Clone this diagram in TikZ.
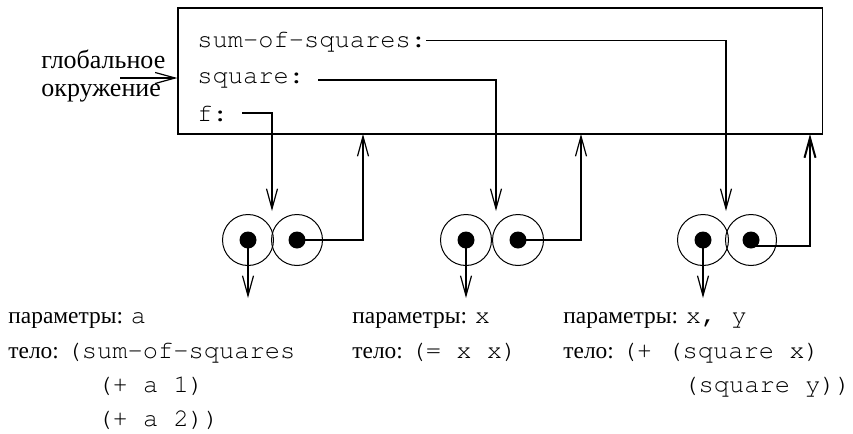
\documentclass[tikz,border=0pt]{standalone}
\usepackage{fontspec}
\setmainfont{Liberation Serif}
\usetikzlibrary{arrows.meta,positioning}

\newcommand{\cour}{\fontencoding{T1}\fontfamily{pcr}\fontsize{12.7}{15}\selectfont}
\newcommand{\cd}[1]{{\cour #1}}

\tikzset{
  frame/.style={draw, line width=0.6pt, minimum width=322.4pt, minimum height=63pt, inner sep=0pt},
  cell/.style={draw, circle, minimum size=25.5pt, inner sep=0pt, line width=0.5pt},
  dot/.style={fill, circle, minimum size=8.5pt, inner sep=0pt},
  link/.style={line width=0.6pt, -{Straight Barb[length=10pt,width=5.5pt]}},
  slot/.style={font=\cour, anchor=base west, inner sep=0pt},
  info/.style={font=\fontsize{11.7}{14}\selectfont, anchor=base west, inner sep=0pt},
}

\begin{document}
\begin{tikzpicture}[x=0.5pt,y=-0.5pt]
\useasboundingbox (0,0) rectangle (853,434);

% global environment frame
\node[frame] (env) at (500.4,71) {};
\node[slot] (sos) at (197,47) {sum-of-squares:};
\node[slot] (sq) at (197,83.5) {square:};
\node[slot] (f) at (197,121) {f:};

\node[info,font=\fontsize{13}{15}\selectfont] (glob1) at (41,68) {глобальное};
\node[info,font=\fontsize{13}{15}\selectfont] (glob2) at (41,96.7) {окружение};
\coordinate (envin) at (120,78);
\draw[link] (envin) -- (envin -| env.west);

% procedure objects
\foreach \n/\xa/\xb in {1/248/297, 2/466/518, 3/703/751} {
  \node[cell] (c\n a) at (\xa,240) {};
  \node[cell] (c\n b) at (\xb,240) {};
  \node[dot] (d\n a) at (\xa,240) {};
  \node[dot] (d\n b) at (\xb,240) {};
}

\coordinate (in1) at (272,211);
\coordinate (in2) at (496,211);
\coordinate (in3) at (726,211);
\coordinate (up1) at (363,134);
\coordinate (up2) at (581,134);
\coordinate (up3) at (810,134);
\coordinate (out1) at (248,298);
\coordinate (out2) at (466,298);
\coordinate (out3) at (703,298);

\draw[link] ([xshift=7pt]f.east) -| (in1);
\draw[link] ([xshift=7pt]sq.east) -| (in2);
\draw[link] (sos.east) -| (in3);

\draw[link] (d1b.center) -| (up1);
\draw[link] (d2b.center) -| (up2);
\draw[link,line width=1pt] ([yshift=-3pt]d3b.center) -| (up3);

\foreach \n in {1,2,3}
  \draw[link] (d\n a.center) -- (out\n);

% parameters and bodies
\node[info] (par1) at (8,323) {параметры: \cd{a}};
\node[info] (body1) at (8,358) {тело: \cd{(sum-of-squares}};
\node[info] (body1b) at (97,392) {\cd{(+ a 1)}};
\node[info] (body1c) at (97,426) {\cd{(+ a 2))}};

\node[info] (par2) at (352,323) {параметры: \cd{x}};
\node[info] (body2) at (352,358) {тело: \cd{(= x x)}};

\node[info] (par3) at (563,323) {параметры: \cd{x, y}};
\node[info] (body3) at (563,358) {тело: \cd{(+ (square x)}};
\node[info] (body3b) at (683,392) {\cd{(square y))}};

\end{tikzpicture}
\end{document}
